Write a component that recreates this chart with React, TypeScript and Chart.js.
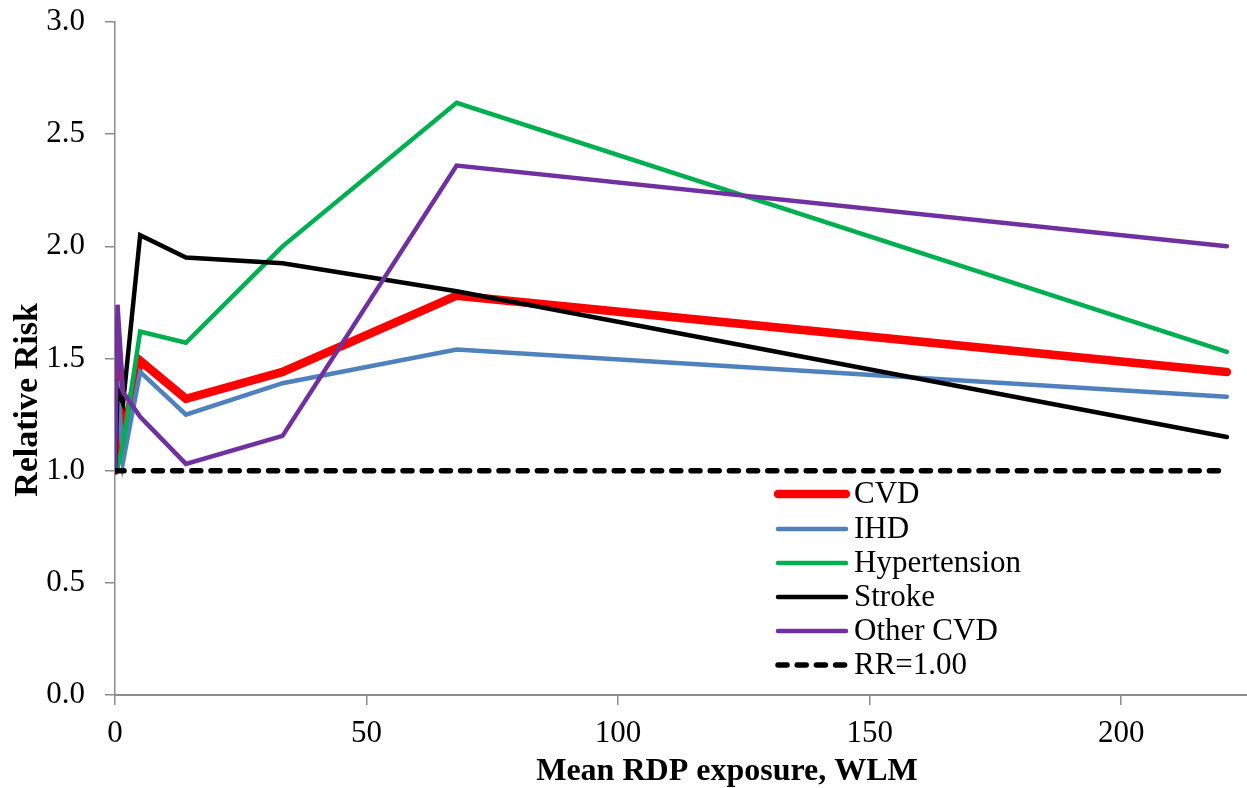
import React, { useEffect, useRef } from "react";
import { Chart, registerables } from "chart.js";

Chart.register(...registerables);

// Mean RDP exposure (WLM) for each exposure group
const xValues = [0, 0.5, 1.6, 5.0, 14.1, 33.3, 67.9, 221];

// Relative risk per series
const cvdValues = [1.0, 1.49, 1.15, 1.49, 1.32, 1.44, 1.78, 1.44];
const ihdValues = [1.0, 1.4, 1.04, 1.44, 1.25, 1.39, 1.54, 1.33];
const hypertensionValues = [1.0, 1.01, 1.12, 1.62, 1.57, 2.0, 2.64, 1.53];
const strokeValues = [1.0, 1.36, 1.3, 2.05, 1.95, 1.925, 1.8, 1.15];
const otherCvdValues = [1.0, 1.74, 1.35, 1.24, 1.03, 1.155, 2.36, 2.0];
const referenceValues = [1.0, 1.0, 1.0, 1.0, 1.0, 1.0, 1.0, 1.0];

const seriesLabels = ["CVD", "IHD", "Hypertension", "Stroke", "Other CVD", "RR=1.00"];

const xTitle = "Mean RDP exposure, WLM";
const yTitle = "Relative Risk";

const SERIF = "'Liberation Serif', 'Times New Roman', serif";

function toPoints(ys: number[]) {
  return ys.map((y, i) => ({ x: xValues[i], y }));
}

export default function App() {
  const canvasRef = useRef<HTMLCanvasElement | null>(null);

  useEffect(() => {
    document.body.style.margin = "0";
    const canvas = canvasRef.current;
    if (!canvas) return;

    const styles = [
      { color: "#FF0000", width: 8.5, dash: [] as number[] },
      { color: "#4F81BD", width: 4.5, dash: [] as number[] },
      { color: "#00B050", width: 4.5, dash: [] as number[] },
      { color: "#000000", width: 4.5, dash: [] as number[] },
      { color: "#7030A0", width: 4.5, dash: [] as number[] },
      { color: "#000000", width: 5.5, dash: [9, 10.2] },
    ];
    const seriesValues = [
      cvdValues,
      ihdValues,
      hypertensionValues,
      strokeValues,
      otherCvdValues,
      referenceValues,
    ];

    const datasets = seriesValues.map((vals, i) => ({
      label: seriesLabels[i],
      data: toPoints(vals),
      borderColor: styles[i].color,
      backgroundColor: styles[i].color,
      borderWidth: styles[i].width,
      borderDash: styles[i].dash,
      borderCapStyle: "round",
      borderJoinStyle: "miter",
      pointRadius: 0,
      pointHoverRadius: 0,
      tension: 0,
      fill: false,
      order: 6 - i,
    }));

    const customPlugin = {
      id: "customText",
      afterDraw(chart: any) {
        const ctx = chart.ctx as CanvasRenderingContext2D;
        ctx.save();
        // Legend
        const rowY = [494, 529, 563, 597, 631, 665];
        const lineX0 = 778;
        const lineX1 = 846;
        const textX = 854;
        ctx.font = `31px ${SERIF}`;
        ctx.textBaseline = "middle";
        ctx.textAlign = "left";
        chart.data.datasets.forEach((ds: any, i: number) => {
          const y = rowY[i];
          ctx.beginPath();
          ctx.strokeStyle = ds.borderColor;
          ctx.lineWidth = ds.borderWidth;
          ctx.lineCap = "round";
          ctx.setLineDash(ds.borderDash || []);
          ctx.moveTo(lineX0, y);
          ctx.lineTo(lineX1, y);
          ctx.stroke();
          ctx.setLineDash([]);
          ctx.fillStyle = "#000000";
          ctx.fillText(ds.label, textX, y + 1);
        });
        // Axis titles
        ctx.fillStyle = "#000000";
        ctx.font = `bold 32px ${SERIF}`;
        ctx.textAlign = "center";
        ctx.textBaseline = "alphabetic";
        ctx.fillText(xTitle, 727, 780);
        ctx.translate(37, 400);
        ctx.rotate(-Math.PI / 2);
        ctx.font = `bold 34px ${SERIF}`;
        ctx.fillText(yTitle, 0, 0);
        ctx.restore();
      },
    };

    const axisColor = "#8c8c8c";

    const chart = new Chart(canvas, {
      type: "line",
      data: { datasets: datasets as any },
      options: {
        animation: false,
        responsive: false,
        devicePixelRatio: 1,
        layout: { padding: { top: 22, right: 0, left: 0, bottom: 0 } },
        plugins: {
          legend: { display: false },
          tooltip: { enabled: false },
        },
        scales: {
          x: {
            type: "linear",
            min: 0,
            max: 225,
            afterFit: (scale: any) => {
              scale.height = 93;
              scale.paddingLeft = 0;
              scale.paddingRight = 0;
            },
            afterBuildTicks: (scale: any) => {
              scale.ticks = scale.ticks.filter((t: any) => t.value % 50 === 0);
            },
            ticks: {
              stepSize: 50,
              includeBounds: false,
              color: "#000000",
              font: { family: SERIF, size: 31 },
              padding: 10,
              maxRotation: 0,
            },
            grid: {
              display: true,
              drawOnChartArea: false,
              drawTicks: true,
              tickLength: 10,
              color: axisColor,
              lineWidth: 1.5,
            },
            border: { display: true, color: axisColor, width: 2 },
          },
          y: {
            type: "linear",
            min: 0,
            max: 3,
            afterFit: (scale: any) => {
              scale.width = 115;
              scale.paddingTop = 0;
              scale.paddingBottom = 0;
            },
            ticks: {
              stepSize: 0.5,
              color: "#000000",
              font: { family: SERIF, size: 31 },
              padding: 20,
              callback: (v: any) => Number(v).toFixed(1),
            },
            grid: {
              display: true,
              drawOnChartArea: false,
              drawTicks: true,
              tickLength: 10,
              color: axisColor,
              lineWidth: 1.5,
            },
            border: { display: true, color: axisColor, width: 1.5 },
          },
        },
      },
      plugins: [customPlugin],
    } as any);

    return () => {
      chart.destroy();
    };
  }, []);

  return (
    <div style={{ width: 1247, height: 788 }}>
      <canvas ref={canvasRef} width={1247} height={788} style={{ display: "block" }} />
    </div>
  );
}
